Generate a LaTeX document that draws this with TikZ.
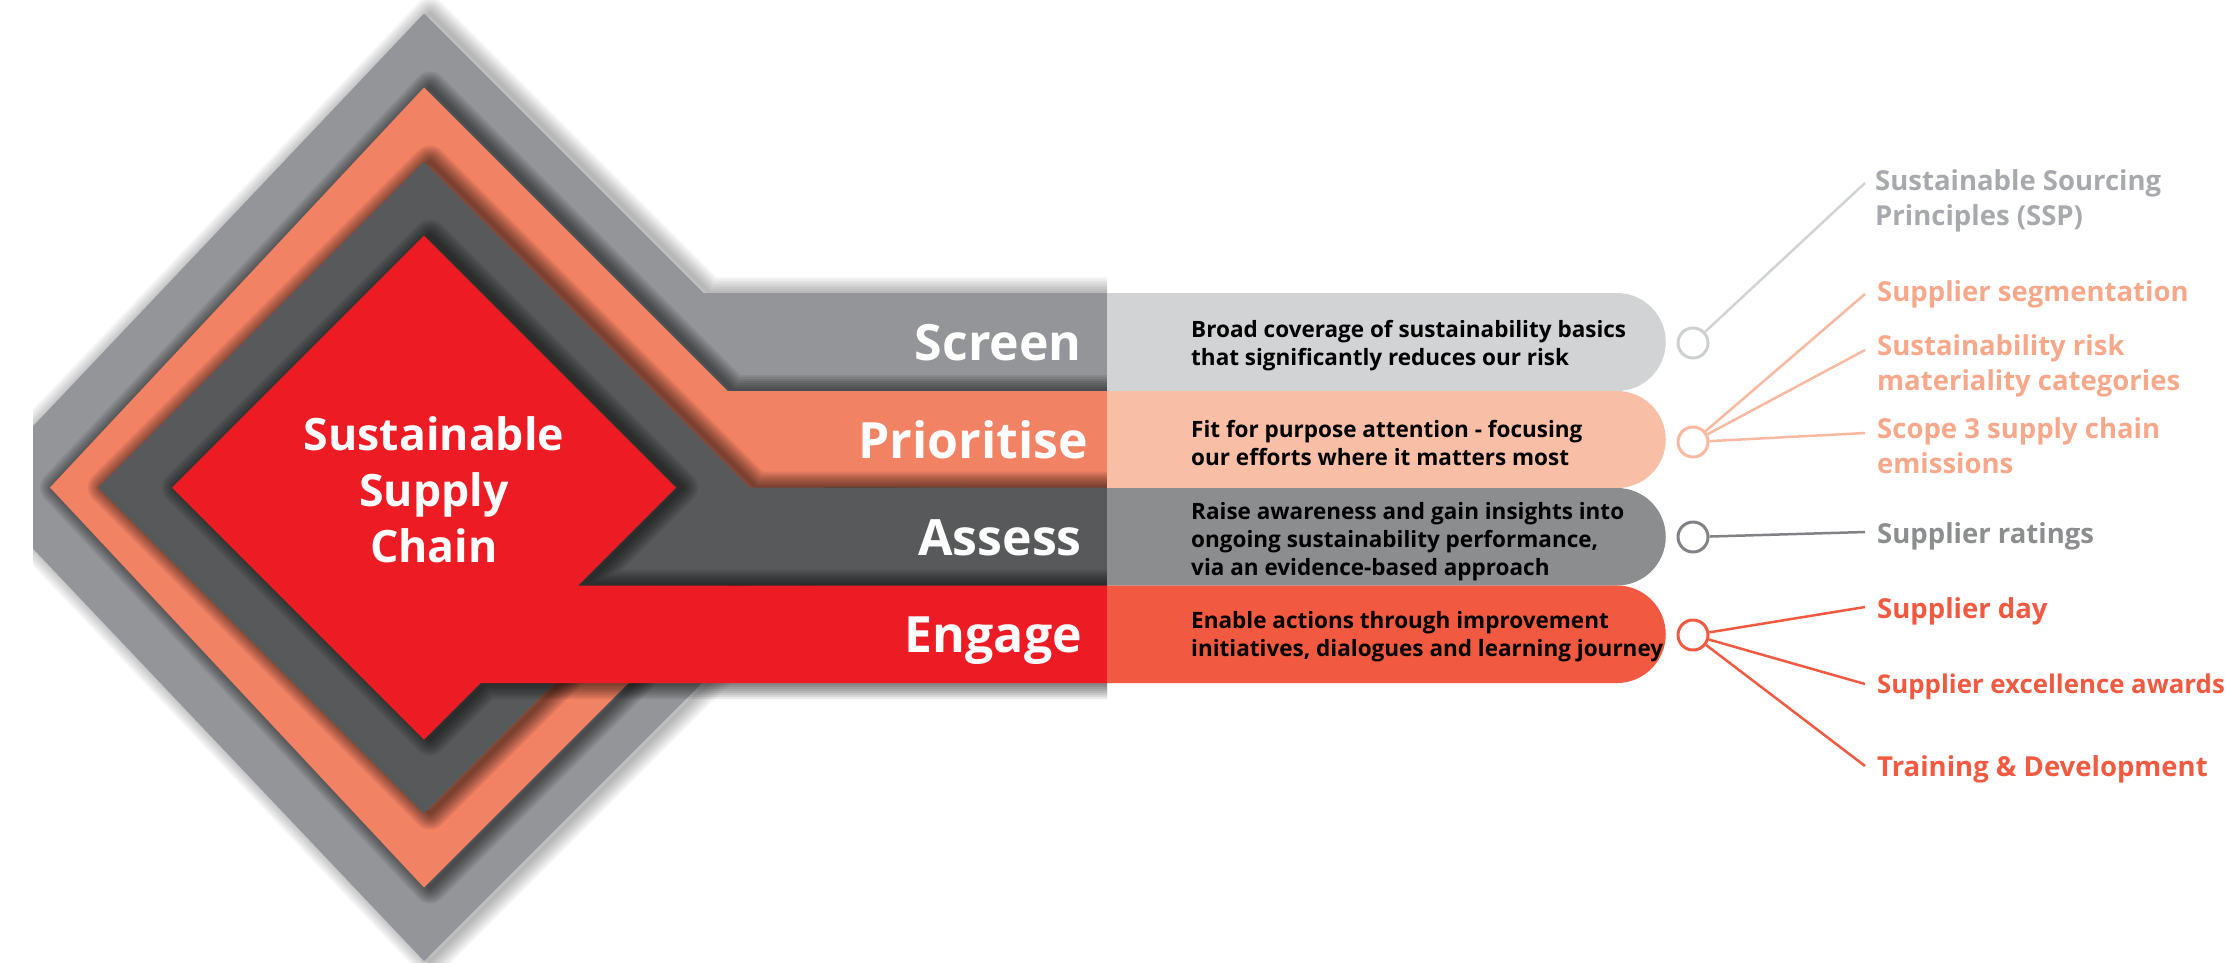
\documentclass[tikz,border=0pt]{standalone}
\usepackage{fontspec}
\setmainfont{Open Sans}
\IfFontExistsTF{Open Sans SemiBold}{\newfontfamily\semib{Open Sans SemiBold}}{\newcommand\semib{\bfseries}}
\definecolor{cgrey}{RGB}{147,149,152}
\definecolor{csalmon}{RGB}{242,130,100}
\definecolor{cdark}{RGB}{88,89,91}
\definecolor{cred}{RGB}{237,28,36}
\definecolor{lgrey}{RGB}{209,211,212}
\definecolor{lsalmon}{RGB}{249,190,166}
\definecolor{lassess}{RGB}{140,141,143}
\definecolor{lengage}{RGB}{241,90,64}
\definecolor{tssp}{RGB}{167,169,172}
\definecolor{tsalmon}{RGB}{248,168,138}
\definecolor{tratings}{RGB}{140,141,143}
\definecolor{tengage}{RGB}{241,90,64}
\definecolor{kgrey}{RGB}{205,207,209}
\definecolor{ksalmon}{RGB}{249,184,160}
\definecolor{kassess}{RGB}{128,130,133}
\newcommand\layershadow[2]{%
  \foreach \w in {4,8,12,16,20,24,28,32}{%
    \draw[line width=\w pt, black, draw opacity=#2, line join=round, xshift=6pt] #1;}}
\newcommand\greypath{(424,13.5) -- (703.5,293) -- (1120,293) -- (1120,392) -- (802,392) -- (897.5,487.5) -- (424,961) -- (-25,487.5) -- cycle}
\newcommand\salmonpath{(424,87.5) -- (727.5,391) -- (1120,391) -- (1120,488) -- (824,487.5) -- (424,887.5) -- (50,487.5) -- cycle}
\newcommand\darkpath{(424,161.5) -- (750,487.5) -- (1120,487.5) -- (1120,585.5) -- (652,585.5) -- (424,813.5) -- (98,487.5) -- cycle}
\newcommand\redpath{(424,235.5) -- (676,487.5) -- (578,585.5) -- (1120,585.5) -- (1120,683) -- (480.5,683) -- (424,739.5) -- (172,487.5) -- cycle}
% light right part of a band: #1 top, #2 bottom, #3 colour
\newcommand\lightpart[3]{%
  \pgfmathsetmacro\mid{(#1+#2)/2}%
  \fill[#3] (1107,#1) -- (1617,#1) .. controls (1643.9,#1) and (1665.75,\mid-26.9) .. (1665.75,\mid)
    .. controls (1665.75,\mid+26.9) and (1643.9,#2) .. (1617,#2) -- (1107,#2) -- cycle;}
\tikzset{
  bandlabel/.style={font=\semib\fontsize{50}{60}\selectfont, text=white, anchor=base east, inner sep=0pt},
  desc/.style={font=\semib\fontsize{22.5}{28}\selectfont, text=black, align=left, anchor=base west, inner sep=0pt},
  item/.style={font=\semib\fontsize{27.5}{35}\selectfont, align=left, anchor=base west, inner sep=0pt},
  dot/.style={circle, minimum size=30pt, inner sep=0pt, line width=3pt, fill=white},
  conn/.style={line width=2.5pt}
}
\begin{document}
\begin{tikzpicture}[x=1pt,y=-1pt]
\useasboundingbox (0,0) rectangle (2229,962);
\begin{scope}
  \clip (33,0) rectangle (1107,962);
  \layershadow{\greypath}{0.04}
  \fill[cgrey] \greypath;
  \layershadow{\salmonpath}{0.08}
  \fill[csalmon] \salmonpath;
  \layershadow{\darkpath}{0.08}
  \fill[cdark] \darkpath;
  \layershadow{\redpath}{0.08}
  \fill[cred] \redpath;
\end{scope}
\lightpart{293}{391}{lgrey}
\lightpart{391}{488}{lsalmon}
\lightpart{488}{585.5}{lassess}
\lightpart{585.5}{683}{lengage}

\node[font=\semib\fontsize{44.6}{56}\selectfont, text=white, align=center, anchor=base, inner sep=0pt] (title) at (434,562) {Sustainable\\Supply\\Chain};

\node[bandlabel] (l1) at (1082,360.5) {Screen};
\node[bandlabel] (l2) at (1088,458) {Prioritise};
\node[bandlabel] (l3) at (1082,555.5) {Assess};
\node[bandlabel] (l4) at (1082,652.5) {Engage};

\node[desc] (d1) at (1191,365) {Broad coverage of sustainability basics\\that significantly reduces our risk};
\node[desc] (d2) at (1191,465) {Fit for purpose attention - focusing\\our efforts where it matters most};
\node[desc] (d3) at (1191,575) {Raise awareness and gain insights into\\ongoing sustainability performance,\\via an evidence-based approach};
\node[desc] (d4) at (1191,656.7) {Enable actions through improvement\\initiatives, dialogues and learning journey};

\node[dot, draw=kgrey] (c1) at (1693,343) {};
\node[dot, draw=ksalmon] (c2) at (1693,442) {};
\node[dot, draw=kassess] (c3) at (1693,537) {};
\node[dot, draw=lengage] (c4) at (1693,635) {};

\coordinate (e1) at (1865,183);
\coordinate (e2) at (1865,294);
\coordinate (e3) at (1865,350);
\coordinate (e4) at (1865,433);
\coordinate (e5) at (1865,532);
\coordinate (e6) at (1865,607);
\coordinate (e7) at (1865,684);
\coordinate (e8) at (1865,766);

\draw[conn, lgrey] (c1) -- (e1);
\draw[conn, ksalmon] (c2) -- (e2);
\draw[conn, ksalmon] (c2) -- (e3);
\draw[conn, ksalmon] (c2) -- (e4);
\draw[conn, kassess] (c3) -- (e5);
\draw[conn, lengage] (c4) -- (e6);
\draw[conn, lengage] (c4) -- (e7);
\draw[conn, lengage] (c4) -- (e8);

\node[item, text=tssp] (t1) at (1875,225) {Sustainable Sourcing\\Principles (SSP)};
\node[item, text=tsalmon] (t2) at (1877,301.7) {Supplier segmentation};
\node[item, text=tsalmon] (t3) at (1877,390) {Sustainability risk\\materiality categories};
\node[item, text=tsalmon] (t4) at (1877,473.3) {Scope 3 supply chain\\emissions};
\node[item, text=tratings] (t5) at (1877,543.3) {Supplier ratings};
\node[item, text=tengage] (t6) at (1877,618.3) {Supplier day};
\node[item, text=tengage, font=\semib\fontsize{25.8}{35}\selectfont] (t7) at (1877,693.3) {Supplier excellence awards};
\node[item, text=tengage] (t8) at (1877,776.7) {Training \& Development};
\end{tikzpicture}
\end{document}
